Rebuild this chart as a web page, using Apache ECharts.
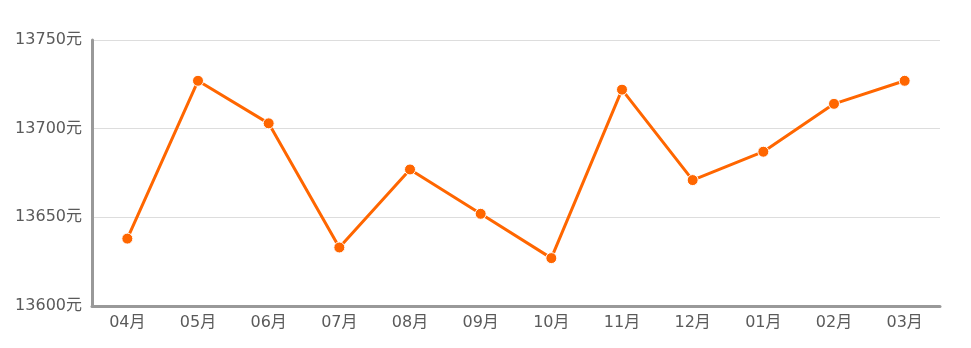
<!DOCTYPE html>
<html>
<head>
<meta charset="utf-8">
<script src="https://cdn.jsdelivr.net/npm/echarts@6/dist/echarts.min.js"></script>
<style>
  html, body { margin: 0; padding: 0; background: #fff; }
  #chart { width: 971px; height: 348px; }
</style>
</head>
<body>
<div id="chart"></div>
<script>
// Monthly average price, 04月 through the following 03月
const months = ['04月', '05月', '06月', '07月', '08月', '09月', '10月', '11月', '12月', '01月', '02月', '03月'];
const prices = [13638, 13727, 13703, 13633, 13677, 13652, 13627, 13722, 13671, 13687, 13714, 13727];
const yMin = 13600;
const yMax = 13750;
const yStep = 50;

const labelFont = "'DejaVu Sans', 'Noto Sans CJK SC', sans-serif";

const chart = echarts.init(document.getElementById('chart'));
chart.setOption({
  animation: false,
  grid: { left: 92, right: 31, top: 40, bottom: 42 },
  xAxis: {
    type: 'category',
    data: months,
    boundaryGap: true,
    axisLine: { lineStyle: { color: '#999', width: 3 } },
    axisTick: { alignWithLabel: true, length: 5, lineStyle: { color: '#c8d6e6' } },
    axisLabel: { color: '#5a5a5a', fontSize: 16, margin: 9, fontFamily: labelFont }
  },
  yAxis: {
    type: 'value',
    min: yMin,
    max: yMax,
    interval: yStep,
    axisLine: { show: true, lineStyle: { color: '#999', width: 3 } },
    axisTick: { show: false },
    splitLine: { lineStyle: { color: '#ddd', width: 1 } },
    axisLabel: {
      color: '#5a5a5a', fontSize: 16, margin: 10, fontFamily: labelFont,
      formatter: v => v + '元'
    }
  },
  series: [{
    type: 'line',
    data: prices,
    symbol: 'circle',
    symbolSize: 11,
    lineStyle: { color: '#ff6600', width: 3 },
    itemStyle: { color: '#ff6600', borderColor: '#fff', borderWidth: 1 }
  }]
});
</script>
</body>
</html>
